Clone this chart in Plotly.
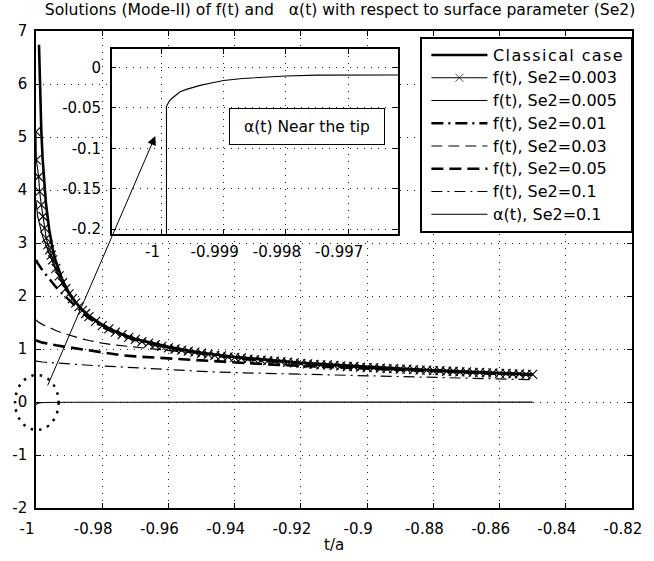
import plotly.graph_objects as go

# ---------------- data ----------------
t_classical = [-0.9991, -0.9988, -0.9984, -0.998, -0.9975, -0.997, -0.996, -0.995, -0.994, -0.993,
               -0.992, -0.99, -0.988, -0.986, -0.984, -0.982, -0.98, -0.977, -0.974, -0.97,
               -0.965, -0.96, -0.955, -0.95, -0.94, -0.93, -0.92, -0.91, -0.90, -0.89,
               -0.88, -0.87, -0.86, -0.85]
f_classical = [6.74, 5.92, 5.13, 4.59, 4.10, 3.75, 3.25, 2.90, 2.65, 2.46,
               2.30, 2.06, 1.88, 1.74, 1.63, 1.54, 1.46, 1.36, 1.28, 1.19,
               1.11, 1.04, 0.98, 0.93, 0.85, 0.79, 0.74, 0.70, 0.66, 0.63,
               0.60, 0.57, 0.545, 0.525]

t_se003 = [-1.0, -0.9999, -0.9992, -0.9989, -0.9984, -0.9979, -0.9974, -0.9969, -0.9964, -0.9959,
           -0.9954, -0.995, -0.994, -0.993, -0.992, -0.991, -0.99, -0.989, -0.988, -0.987,
           -0.986, -0.985, -0.984,
           -0.982, -0.980, -0.978, -0.976, -0.974, -0.972, -0.970, -0.968, -0.966, -0.964,
           -0.962, -0.960, -0.958, -0.956, -0.954, -0.952, -0.950, -0.948, -0.946, -0.944,
           -0.942, -0.940, -0.938, -0.936, -0.934, -0.932, -0.930, -0.928, -0.926, -0.924,
           -0.922, -0.920, -0.918, -0.916, -0.914, -0.912, -0.910, -0.908, -0.906, -0.904,
           -0.902, -0.900, -0.898, -0.896, -0.894, -0.892, -0.890, -0.888, -0.886, -0.884,
           -0.882, -0.880, -0.878, -0.876, -0.874, -0.872, -0.870, -0.868, -0.866, -0.864,
           -0.862, -0.860, -0.858, -0.856, -0.854, -0.852, -0.850]
f_se003 = [5.10, 4.57, 4.25, 3.97, 3.72, 3.50, 3.28, 3.09, 2.97, 2.87,
           2.77, 2.68, 2.52, 2.38, 2.25, 2.14, 2.04, 1.95, 1.87, 1.80,
           1.73, 1.67, 1.61,
           1.52, 1.44, 1.38, 1.32, 1.27, 1.22, 1.18, 1.14, 1.11, 1.08,
           1.05, 1.02, 1.00, 0.98, 0.96, 0.94, 0.92, 0.90, 0.88, 0.87,
           0.85, 0.84, 0.83, 0.81, 0.80, 0.79, 0.78, 0.77, 0.76, 0.75,
           0.74, 0.73, 0.72, 0.71, 0.70, 0.70, 0.69, 0.68, 0.67, 0.67,
           0.66, 0.65, 0.65, 0.64, 0.63, 0.63, 0.62, 0.62, 0.61, 0.60,
           0.60, 0.59, 0.59, 0.58, 0.58, 0.57, 0.57, 0.56, 0.56, 0.55,
           0.55, 0.54, 0.54, 0.53, 0.53, 0.52, 0.52]

t_grid = [-1.0, -0.9995, -0.998, -0.996, -0.994, -0.992, -0.99, -0.988, -0.986, -0.984,
          -0.982, -0.98, -0.977, -0.974, -0.97, -0.965, -0.96, -0.955, -0.95, -0.94,
          -0.93, -0.92, -0.91, -0.90, -0.89, -0.88, -0.87, -0.86, -0.85]
f_se005 = [3.80, 3.50, 3.12, 2.78, 2.48, 2.23, 2.02, 1.86, 1.72, 1.61,
           1.52, 1.44, 1.35, 1.27, 1.18, 1.10, 1.02, 0.97, 0.92, 0.84,
           0.78, 0.73, 0.69, 0.65, 0.62, 0.59, 0.57, 0.54, 0.52]
f_se01 = [2.68, 2.62, 2.48, 2.32, 2.17, 2.04, 1.92, 1.80, 1.69, 1.58,
          1.50, 1.42, 1.33, 1.26, 1.17, 1.09, 1.02, 0.96, 0.91, 0.83,
          0.77, 0.72, 0.68, 0.645, 0.615, 0.585, 0.56, 0.535, 0.515]
f_se03 = [1.55, 1.52, 1.46, 1.40, 1.35, 1.30, 1.26, 1.22, 1.19, 1.16,
          1.13, 1.11, 1.08, 1.06, 1.03, 1.00, 0.97, 0.94, 0.91, 0.85,
          0.78, 0.73, 0.69, 0.65, 0.62, 0.59, 0.56, 0.535, 0.515]
f_se05 = [1.17, 1.15, 1.12, 1.09, 1.07, 1.05, 1.03, 1.01, 0.99, 0.97,
          0.95, 0.93, 0.90, 0.88, 0.86, 0.84, 0.82, 0.80, 0.78, 0.745,
          0.71, 0.68, 0.655, 0.63, 0.605, 0.58, 0.555, 0.53, 0.51]
f_se1 = [0.77, 0.765, 0.755, 0.745, 0.735, 0.725, 0.715, 0.71, 0.70, 0.69,
         0.685, 0.68, 0.67, 0.66, 0.648, 0.625, 0.605, 0.59, 0.578, 0.555,
         0.54, 0.525, 0.51, 0.495, 0.48, 0.465, 0.45, 0.435, 0.42]

t_alpha = [-0.99992, -0.99992, -0.9999, -0.99987, -0.99983, -0.99977, -0.9997, -0.9996, -0.9995, -0.99938,
           -0.9992, -0.999, -0.9987, -0.9984, -0.998, -0.9975, -0.997, -0.9966, -0.9962, -0.99,
           -0.97, -0.94, -0.9, -0.85]
alpha_se1 = [-0.30, -0.048, -0.045, -0.041, -0.038, -0.034, -0.030, -0.027, -0.0245, -0.022,
             -0.019, -0.016, -0.0135, -0.012, -0.0104, -0.0093, -0.0083, -0.0079, -0.0075, -0.005,
             -0.0035, -0.0025, -0.002, -0.0015]

x_tickvals = [-1, -0.98, -0.96, -0.94, -0.92, -0.9, -0.88, -0.86, -0.84, -0.82]
x_ticktext = ["-1", "-0.98", "-0.96", "-0.94", "-0.92", "-0.9", "-0.88", "-0.86", "-0.84", "-0.82"]
y_tickvals = [-2, -1, 0, 1, 2, 3, 4, 5, 6, 7]
y_ticktext = ["-2", "-1", "0", "1", "2", "3", "4", "5", "6", "7"]
inset_x_tickvals = [-1, -0.999, -0.998, -0.997]
inset_x_ticktext = ["-1", "-0.999", "-0.998", "-0.997"]
inset_y_tickvals = [0, -0.05, -0.1, -0.15, -0.2]
inset_y_ticktext = ["0", "-0.05", "-0.1", "-0.15", "-0.2"]

legend_labels = ["Classical case", "f(t), Se2=0.003", "f(t), Se2=0.005", "f(t), Se2=0.01",
                 "f(t), Se2=0.03", "f(t), Se2=0.05", "f(t), Se2=0.1", "\u03b1(t), Se2=0.1"]

title_text = "Solutions (Mode-II) of f(t) and \u00a0\u00a0\u03b1(t) with respect to surface parameter (Se2)"

# ---------------- styles ----------------
FONT = "DejaVu Sans, Liberation Sans, Arial, sans-serif"
FS = 15
W, H = 654, 561
ML, MR, MT, MB = 33, 15, 31, 53
PW, PH = W - ML - MR, H - MT - MB

def px_x(px):
    return (px - ML) / PW

def px_y(py):
    return (H - MB - py) / PH

styles = [
    dict(color="black", width=2.6),                                   # classical
    dict(color="black", width=1.1),                                   # 0.003 with x
    dict(color="black", width=1.1),                                   # 0.005
    dict(color="black", width=2.6, dash="12px,5px,2px,5px"),          # 0.01
    dict(color="black", width=1.2, dash="11px,6px"),                  # 0.03
    dict(color="black", width=2.6, dash="12px,6px"),                  # 0.05
    dict(color="black", width=1.2, dash="11px,5px,2px,5px"),          # 0.1
    dict(color="black", width=1.1),                                   # alpha
]

series = [
    (t_classical, f_classical),
    (t_se003, f_se003),
    (t_grid, f_se005),
    (t_grid, f_se01),
    (t_grid, f_se03),
    (t_grid, f_se05),
    (t_grid, f_se1),
    (t_alpha[1:], alpha_se1[1:]),
]

fig = go.Figure()

for i, (tx, fy) in enumerate(series):
    if i == 1:
        fig.add_trace(go.Scatter(x=tx, y=fy, mode="lines+markers", line=styles[i],
                                 marker=dict(symbol="x-thin", size=9,
                                             line=dict(width=1.1, color="black")),
                                 showlegend=False, xaxis="x", yaxis="y"))
    else:
        fig.add_trace(go.Scatter(x=tx, y=fy, mode="lines", line=styles[i],
                                 showlegend=False, xaxis="x", yaxis="y"))

# inset: alpha near the tip
fig.add_trace(go.Scatter(x=t_alpha, y=alpha_se1, mode="lines", line=dict(color="black", width=1.1),
                         showlegend=False, xaxis="x2", yaxis="y2"))

# manual legend (MATLAB style, long samples)
LX0, LX1, LY0, LY1 = 425.7, 638.3, 39.3, 231.0
row_y = [55 + 22.75 * k for k in range(len(legend_labels))]
for k, lab in enumerate(legend_labels):
    if k == 1:
        fig.add_trace(go.Scatter(x=[435, 463.5, 492], y=[row_y[k]] * 3, mode="lines+markers",
                                 line=styles[k],
                                 marker=dict(symbol="x-thin", size=[0, 8, 0],
                                             line=dict(width=1, color="black")),
                                 showlegend=False, xaxis="x3", yaxis="y3", hoverinfo="skip"))
    else:
        fig.add_trace(go.Scatter(x=[435, 492], y=[row_y[k]] * 2, mode="lines", line=styles[k],
                                 showlegend=False, xaxis="x3", yaxis="y3", hoverinfo="skip"))

annotations = []
for k, lab in enumerate(legend_labels):
    txt = lab
    if k == 0:
        txt = '<span style="letter-spacing:1.4px">' + lab + '</span>'
    annotations.append(dict(x=496, y=row_y[k], xref="x3", yref="y3", text=txt, showarrow=False,
                            xanchor="left", yanchor="middle",
                            font=dict(size=16, color="black", family=FONT)))

# x label
annotations.append(dict(x=0.5, y=px_y(545), xref="paper", yref="paper", text="t/a", showarrow=False,
                        xanchor="center", yanchor="middle", font=dict(size=FS, color="black", family=FONT)))

# text box in inset
annotations.append(dict(x=px_x(309), y=px_y(127), xref="paper", yref="paper",
                        text="\u03b1(t) Near the tip", showarrow=False, xanchor="center", yanchor="middle",
                        width=152, height=33, align="center", bordercolor="black", borderwidth=1,
                        borderpad=1, bgcolor="white",
                        font=dict(size=15.5, color="black", family=FONT)))

# arrow from the circled zone to the inset
annotations.append(dict(x=px_x(154.3), y=px_y(136), xref="paper", yref="paper",
                        ax=46 - 154.3, ay=387 - 136, axref="pixel", ayref="pixel",
                        text="", showarrow=True, arrowhead=2, arrowsize=1.8, arrowwidth=1,
                        arrowcolor="black", standoff=0))

shapes = [
    dict(type="circle", xref="paper", yref="paper",
         x0=px_x(11.7), x1=px_x(56), y0=px_y(430), y1=px_y(375),
         line=dict(color="black", width=2.5, dash="2.5px,6px")),
]

axis_common = dict(showline=True, linecolor="black", linewidth=1.5, mirror="ticks",
                   ticks="inside", ticklen=5, tickcolor="black", tickwidth=1,
                   showgrid=True, gridcolor="#222222", gridwidth=1, griddash="1px,6px",
                   zeroline=False, tickfont=dict(size=FS, color="black", family=FONT),
                   fixedrange=True)

fig.update_layout(
    width=W, height=H,
    margin=dict(l=ML, r=MR, t=MT, b=MB, pad=0),
    paper_bgcolor="white", plot_bgcolor="white",
    font=dict(family=FONT, size=FS, color="black"),
    title=dict(text=title_text, x=0.52, xref="container", xanchor="center",
               y=1 - 10 / H, yref="container", yanchor="middle",
               font=dict(size=15.6, color="black", family=FONT)),
    xaxis=dict(domain=[0, 1], range=[-1, -0.82], tickvals=x_tickvals, ticktext=x_ticktext,
               anchor="y", ticklabelstandoff=6, ticklabelshift=-9, ticklabeloverflow="allow",
               **axis_common),
    yaxis=dict(domain=[0, 1], range=[-2, 7], tickvals=y_tickvals, ticktext=y_ticktext,
               anchor="x", ticklabelstandoff=4, **axis_common),
    xaxis2=dict(domain=[px_x(110), px_x(401)], range=[-1.0008, -0.9962],
                tickvals=inset_x_tickvals, ticktext=inset_x_ticktext, anchor="y2",
                ticklabelstandoff=3, ticklabelshift=-9, ticklabeloverflow="allow", **axis_common),
    yaxis2=dict(domain=[px_y(234), px_y(49)], range=[-0.206, 0.023],
                tickvals=inset_y_tickvals, ticktext=inset_y_ticktext, anchor="x2",
                ticklabelstandoff=6, **axis_common),
    xaxis3=dict(domain=[px_x(LX0), px_x(LX1)], range=[LX0, LX1], anchor="y3",
                showline=True, mirror=True, linecolor="black", linewidth=1.5,
                showgrid=False, zeroline=False, showticklabels=False, ticks="", fixedrange=True),
    yaxis3=dict(domain=[px_y(LY1), px_y(LY0)], range=[LY1, LY0], anchor="x3",
                showline=True, mirror=True, linecolor="black", linewidth=1.5,
                showgrid=False, zeroline=False, showticklabels=False, ticks="", fixedrange=True),
    annotations=annotations,
    shapes=shapes,
    showlegend=False,
)

fig.write_html("out.html")
